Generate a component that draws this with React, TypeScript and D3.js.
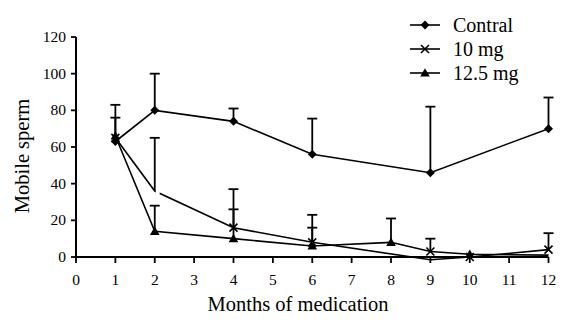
import React from "react";
import * as d3 from "d3";

const xTicks = [0, 1, 2, 3, 4, 5, 6, 7, 8, 9, 10, 11, 12];
const yTicks = [0, 20, 40, 60, 80, 100, 120];

const controlX = [1, 2, 4, 6, 9, 12];
const controlY = [63, 80, 74, 56, 46, 70];
const controlErr = [76, 100, 81, 75.5, 82, 87];
const controlSym = ["d", "d", "d", "d", "d", "d"];

const tenX = [1, 2, 4, 6, 9, 10, 12];
const tenY = [65, 36, 16, 8, -1.5, 0, 4];
const tenErr = [null, 65, 37, 23, null, null, 13];
const tenSym = ["x", "gap", "x", "x", "", "x", "x"];

const twelveX = [1, 2, 4, 6, 8, 9, 10, 12];
const twelveY = [66, 14, 10, 6, 8, 3, 1.5, 1];
const twelveErr = [83, 28, 26, 16, 21, 10, null, null];
const twelveSym = ["t", "t", "t", "t", "t", "x", "t", ""];

const legendNames = ["Contral", "10 mg", "12.5 mg"];
const legendSyms = ["d", "x", "t"];

const W = 567;
const H = 325;
const FAM = '"Liberation Serif"';
const TXT = { fontFamily: FAM };

const x = d3.scaleLinear().domain([0, 12]).range([76, 548.5]);
const y = d3.scaleLinear().domain([0, 120]).range([257, 37]);

function Marker({ cx, cy, s }: { cx: number; cy: number; s: string }) {
  if (s === "d") {
    const r = 4.5;
    return <path d={`M${cx},${cy - r}L${cx + r},${cy}L${cx},${cy + r}L${cx - r},${cy}Z`} fill="#000" />;
  }
  if (s === "t") {
    const r = 4.8;
    return <path d={`M${cx},${cy - r}L${cx + r},${cy + r * 0.75}L${cx - r},${cy + r * 0.75}Z`} fill="#000" />;
  }
  if (s === "x") {
    const r = 4;
    return (
      <path
        d={`M${cx - r},${cy - r}L${cx + r},${cy + r}M${cx - r},${cy + r}L${cx + r},${cy - r}`}
        stroke="#000"
        strokeWidth={1.6}
        fill="none"
      />
    );
  }
  if (s === "gap") {
    return <rect x={cx + 1} y={cy - 2} width={4} height={5} fill="#fff" />;
  }
  return null;
}

function Series({ xs, ys, errs, syms }: { xs: number[]; ys: number[]; errs: (number | null)[]; syms: string[] }) {
  const line = d3
    .line<number>()
    .x((_, i) => x(xs[i]))
    .y((v) => y(v));
  return (
    <g>
      <path d={line(ys) || ""} fill="none" stroke="#000" strokeWidth={1.6} />
      {syms.map((s, i) =>
        s === "gap" ? <Marker key={"g" + i} cx={x(xs[i])} cy={y(ys[i])} s={s} /> : null
      )}
      {errs.map((e, i) =>
        e == null ? null : (
          <g key={"e" + i}>
            <line x1={x(xs[i])} x2={x(xs[i])} y1={y(ys[i])} y2={y(e)} stroke="#000" strokeWidth={1.8} />
            <line x1={x(xs[i]) - 5} x2={x(xs[i]) + 5} y1={y(e)} y2={y(e)} stroke="#000" strokeWidth={1.8} />
          </g>
        )
      )}
      {syms.map((s, i) =>
        s === "gap" ? null : <Marker key={"m" + i} cx={x(xs[i])} cy={y(ys[i])} s={s} />
      )}
    </g>
  );
}

export default function App() {
  const x0 = x(0);
  const y0 = y(0);
  return (
    <svg width={W} height={H} style={{ position: "absolute", left: 0, top: 0 }} fontFamily="Liberation Serif">
      <style>{`text { font-family: "Liberation Serif", serif !important; }`}</style>
      <rect width={W} height={H} fill="#fff" />
      <line x1={x0} x2={x0} y1={y(120)} y2={y0} stroke="#000" strokeWidth={2} />
      <line x1={x0} x2={x(12)} y1={y0} y2={y0} stroke="#000" strokeWidth={2} />
      {yTicks.map((t) => (
        <g key={"yt" + t}>
          <line x1={x0 - 5} x2={x0} y1={y(t)} y2={y(t)} stroke="#000" strokeWidth={1.8} />
          <text x={x0 - 10} y={y(t) + 5} fontSize={15.5} textAnchor="end" fill="#000" fontFamily="Liberation Serif" style={TXT}>
            {t}
          </text>
        </g>
      ))}
      {xTicks.map((t) => (
        <g key={"xt" + t}>
          <line x1={x(t)} x2={x(t)} y1={y0} y2={y0 + 6} stroke="#000" strokeWidth={1.8} />
          <text x={x(t)} y={285} fontSize={15.5} textAnchor="middle" fill="#000" fontFamily="Liberation Serif" style={TXT}>
            {t}
          </text>
        </g>
      ))}
      <text x={298} y={311} fontSize={20.5} textAnchor="middle" fill="#000" fontFamily="Liberation Serif" style={TXT}>
        Months of medication
      </text>
      <text
        transform={`translate(29,156) rotate(-90)`}
        fontSize={20.5}
        textAnchor="middle"
        fill="#000"
        fontFamily="Liberation Serif"
        style={TXT}
      >
        Mobile sperm
      </text>

      <Series xs={controlX} ys={controlY} errs={controlErr} syms={controlSym} />
      <Series xs={tenX} ys={tenY} errs={tenErr} syms={tenSym} />
      <Series xs={twelveX} ys={twelveY} errs={twelveErr} syms={twelveSym} />

      {legendNames.map((n, i) => {
        const ly = 25 + i * 24;
        return (
          <g key={n}>
            <line x1={410} x2={440} y1={ly} y2={ly} stroke="#000" strokeWidth={1.6} />
            <Marker cx={425} cy={ly} s={legendSyms[i]} />
            <text x={453} y={ly + 7} fontSize={20} fill="#000" fontFamily="Liberation Serif" style={TXT}>
              {n}
            </text>
          </g>
        );
      })}
    </svg>
  );
}
